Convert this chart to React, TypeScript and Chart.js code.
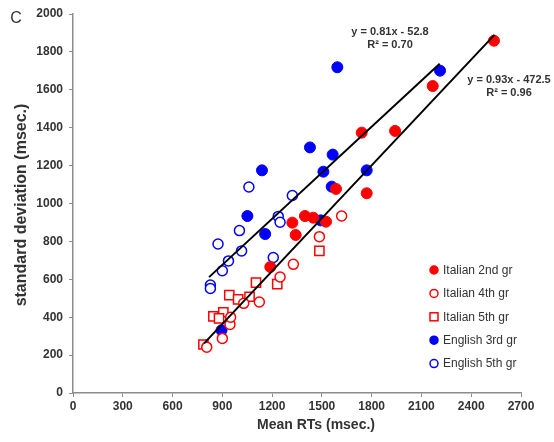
import React, { useEffect, useRef } from "react";
import { Chart, registerables } from "chart.js";

Chart.register(...registerables);

// ---- data ----
const italian2ndX = [2537, 2168, 1941, 1740, 1770, 1585, 1525, 1448, 1398, 1322, 1342, 1189];
const italian2ndY = [1859, 1620, 1383, 1374, 1054, 1077, 904, 925, 934, 899, 834, 665];

const italian4thX = [1619, 1485, 1328, 1248, 1029, 1123, 946, 950, 900, 806];
const italian4thY = [934, 825, 679, 612, 473, 480, 362, 400, 288, 242];

const italian5thX = [1485, 1231, 1103, 942, 995, 1064, 846, 906, 880, 786];
const italian5thY = [750, 575, 582, 516, 494, 508, 404, 426, 394, 256];

const english3rdX = [1593, 2212, 1428, 1565, 1509, 1770, 1559, 1493, 1139, 1051, 1158, 895];
const english3rdY = [1719, 1701, 1296, 1258, 1168, 1175, 1089, 911, 1175, 934, 839, 331];

const english5thX = [1060, 1322, 1237, 1248, 1003, 874, 1016, 937, 900, 1207, 828, 828];
const english5thY = [1087, 1042, 932, 901, 857, 786, 750, 697, 645, 715, 570, 552];

const seriesLabels = ["Italian 2nd gr", "Italian 4th gr", "Italian 5th gr", "English 3rd gr", "English 5th gr"];

const trendSlopes = [0.81, 0.93];
const trendIntercepts = [-52.8, -472.5];
const trendStartX = [820, 790];
const trendEndX = [2210, 2540];
const trendEquations = ["y = 0.81x - 52.8", "y = 0.93x - 472.5"];
const trendR2 = ["R² = 0.70", "R² = 0.96"];

const xMin = 0, xMax = 2700, xStep = 300;
const yMin = 0, yMax = 2000, yStep = 200;

const panelLetter = "C";
const xTitle = "Mean RTs (msec.)";
const yTitle = "standard deviation (msec.)";

const FONT = '"Liberation Sans", Arial, sans-serif';
const TEXT = "#333333";
const RED = "#ff0000";
const BLUE = "#0000ff";

const pts = (xs: number[], ys: number[]) => xs.map((x, i) => ({ x, y: ys[i] }));

export default function App() {
  const ref = useRef<HTMLCanvasElement | null>(null);

  useEffect(() => {
    if (!ref.current) return;

    const trendDatasets = trendSlopes.map((m, i) => ({
      type: "line" as const,
      label: "trend" + i,
      data: [
        { x: trendStartX[i], y: m * trendStartX[i] + trendIntercepts[i] },
        { x: trendEndX[i], y: m * trendEndX[i] + trendIntercepts[i] },
      ],
      borderColor: "#000000",
      borderWidth: 2,
      pointRadius: 0,
      showLine: true,
      fill: false,
    }));

    const scatterSets = [
      { label: seriesLabels[0], data: pts(italian2ndX, italian2ndY), pointStyle: "circle", pointRadius: 5.5, backgroundColor: RED, borderColor: RED, borderWidth: 1 },
      { label: seriesLabels[1], data: pts(italian4thX, italian4thY), pointStyle: "circle", pointRadius: 5, backgroundColor: "#ffffff", borderColor: RED, borderWidth: 1.5 },
      { label: seriesLabels[2], data: pts(italian5thX, italian5thY), pointStyle: "rect", pointRadius: 6.5, backgroundColor: "#ffffff", borderColor: RED, borderWidth: 1.5 },
      { label: seriesLabels[3], data: pts(english3rdX, english3rdY), pointStyle: "circle", pointRadius: 5.5, backgroundColor: BLUE, borderColor: BLUE, borderWidth: 1 },
      { label: seriesLabels[4], data: pts(english5thX, english5thY), pointStyle: "circle", pointRadius: 5, backgroundColor: "#ffffff", borderColor: BLUE, borderWidth: 1.5 },
    ].map((d) => ({ ...d, showLine: false }));

    const overlay = {
      id: "overlay",
      afterDraw(chart: any) {
        const ctx = chart.ctx as CanvasRenderingContext2D;
        ctx.save();
        ctx.fillStyle = TEXT;
        // panel letter
        ctx.font = `16px ${FONT}`;
        ctx.textAlign = "center";
        ctx.textBaseline = "middle";
        ctx.fillText(panelLetter, 16, 19);
        // x title
        ctx.font = `bold 14px ${FONT}`;
        ctx.fillText(xTitle, 316, 425);
        // y title
        ctx.save();
        ctx.translate(22, 205);
        ctx.rotate(-Math.PI / 2);
        ctx.font = `bold 16px ${FONT}`;
        ctx.fillText(yTitle, 0, 0);
        ctx.restore();
        // trend annotations
        ctx.font = `bold 11px ${FONT}`;
        const annPos = [
          [390, 32],
          [509, 80],
        ];
        annPos.forEach((p, i) => {
          ctx.fillText(trendEquations[i], p[0], p[1]);
          ctx.fillText(trendR2[i], p[0], p[1] + 13);
        });
        // legend
        const lx = 434;
        const ly0 = 270;
        const lstep = 23.4;
        ctx.textAlign = "left";
        ctx.font = `12px ${FONT}`;
        scatterSets.forEach((d, i) => {
          const y = ly0 + i * lstep;
          ctx.lineWidth = 1.5;
          ctx.strokeStyle = d.borderColor as string;
          ctx.fillStyle = d.backgroundColor as string;
          if (d.pointStyle === "rect") {
            ctx.fillRect(lx - 4, y - 4, 8, 8);
            ctx.strokeRect(lx - 4, y - 4, 8, 8);
          } else {
            ctx.beginPath();
            ctx.arc(lx, y, 4, 0, Math.PI * 2);
            ctx.fill();
            ctx.stroke();
          }
          ctx.fillStyle = TEXT;
          ctx.fillText(d.label, lx + 9, y + 0.5);
        });
        ctx.restore();
      },
    };

    const chart = new Chart(ref.current, {
      type: "scatter",
      data: { datasets: [...trendDatasets, ...scatterSets] as any },
      options: {
        responsive: false,
        animation: false,
        events: [],
        layout: { padding: { left: 0, top: 14, right: 33, bottom: 0 } },
        plugins: { legend: { display: false }, tooltip: { enabled: false } },
        scales: {
          x: {
            type: "linear",
            min: xMin,
            max: xMax,
            afterFit: (s: any) => {
              s.height = 49;
            },
            ticks: {
              stepSize: xStep,
              color: TEXT,
              font: { family: FONT, size: 12, weight: "bold" },
              padding: 2,
              maxRotation: 0,
              callback: (v: any) => String(v),
            },
            grid: { drawOnChartArea: false, drawTicks: true, tickLength: 4, color: "#8c8c8c" },
            border: { color: "#8c8c8c", width: 1.5 },
          },
          y: {
            type: "linear",
            min: yMin,
            max: yMax,
            afterFit: (s: any) => {
              s.width = 73;
            },
            ticks: {
              stepSize: yStep,
              color: TEXT,
              font: { family: FONT, size: 12, weight: "bold" },
              padding: 6,
              callback: (v: any) => String(v),
            },
            grid: { drawOnChartArea: false, drawTicks: true, tickLength: 4, color: "#8c8c8c" },
            border: { color: "#8c8c8c", width: 1.5 },
          },
        },
      },
      plugins: [overlay],
    });

    return () => chart.destroy();
  }, []);

  return (
    <div style={{ position: "absolute", left: 0, top: 0, width: 554, height: 442, background: "#ffffff" }}>
      <canvas ref={ref} width={554} height={442} style={{ width: 554, height: 442, display: "block" }} />
    </div>
  );
}
